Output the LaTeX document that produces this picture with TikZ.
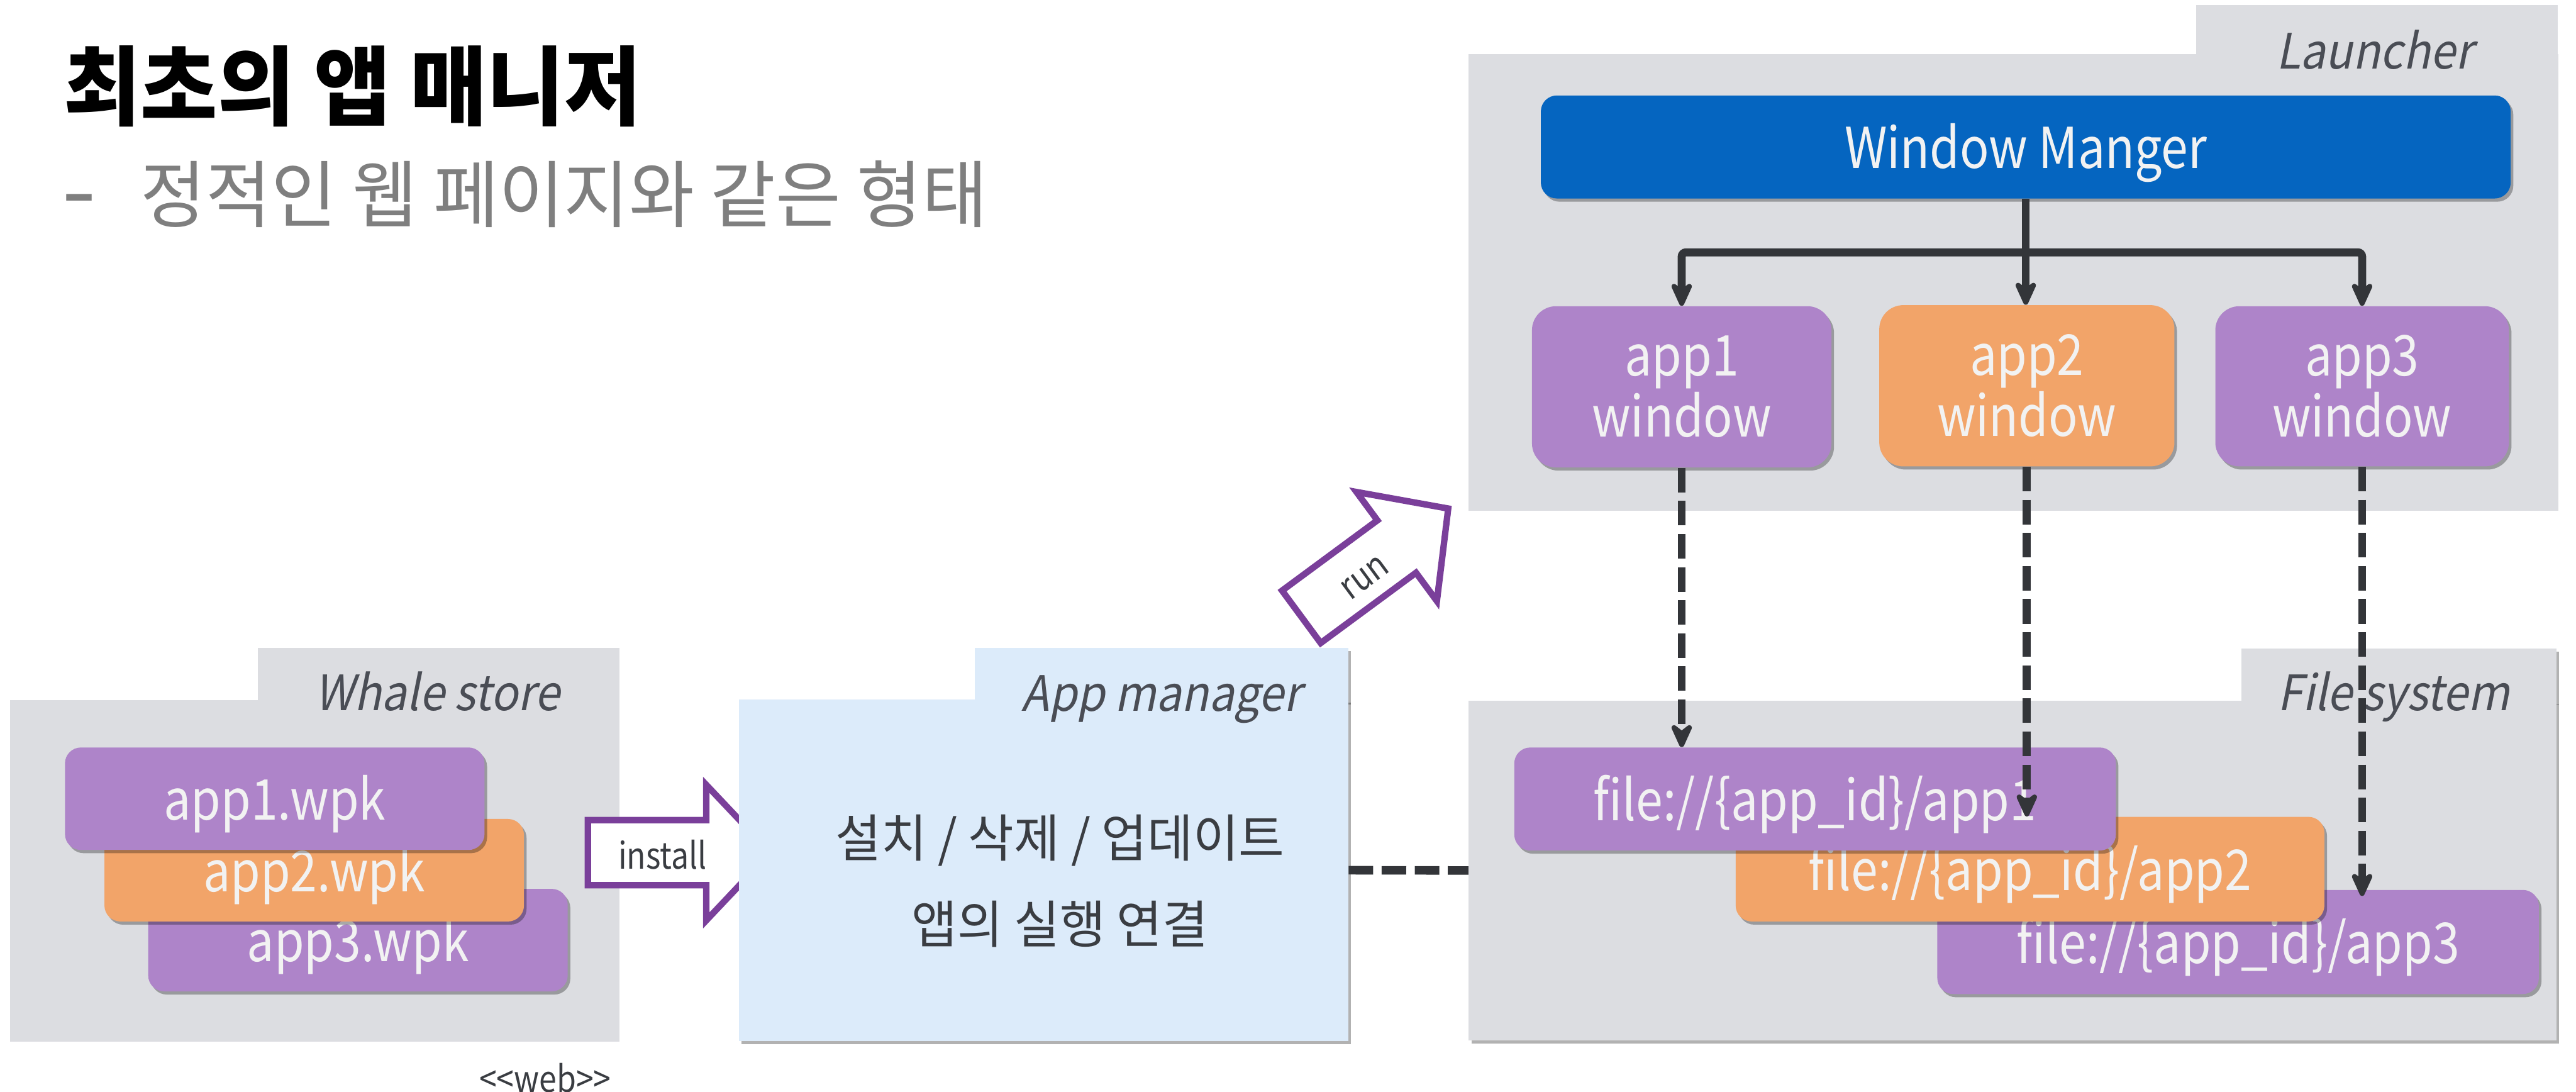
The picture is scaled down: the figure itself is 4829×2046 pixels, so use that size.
\documentclass[tikz,border=0pt]{standalone}
\usepackage{fontspec}
\setmainfont{Noto Sans CJK KR}[FakeStretch=0.86]
\newfontfamily\krfont{Noto Sans CJK KR}[FakeStretch=0.97]
\newfontfamily\slfont{Noto Sans CJK KR}[FakeSlant=0.2,FakeStretch=0.92]
\usetikzlibrary{arrows.meta,shadows}

\definecolor{boxpurple}{HTML}{AE84C9}
\definecolor{boxorange}{HTML}{F2A469}
\definecolor{boxblue}{HTML}{0565C0}
\definecolor{foldergray}{HTML}{DCDDE1}
\definecolor{mgrblue}{HTML}{DCEBFA}
\definecolor{boxtext}{HTML}{F2F2F2}
\definecolor{labeltext}{HTML}{4A4D55}
\definecolor{darktext}{HTML}{3A3D42}
\definecolor{darkline}{HTML}{333539}
\definecolor{arrowpurple}{HTML}{7A3F9A}
\definecolor{subgray}{HTML}{7F7F7F}

\begin{document}
\begin{tikzpicture}[
  x=0.01cm, y=-0.01cm,
  folder/.style={fill=foldergray, draw=none, inner sep=0pt},
  shadowed/.style={drop shadow={shadow xshift=1.4pt, shadow yshift=-1.7pt, opacity=0.3, fill=black}},
  card/.style={inner sep=0pt, align=center, text=boxtext,
    font=\fontsize{30}{32.5}\selectfont, shadowed},
  oneline/.style={text height=0.95cm, text depth=0.15cm},
  purplecard/.style={card, fill=boxpurple},
  orangecard/.style={card, fill=boxorange},
  bluecard/.style={card, fill=boxblue},
  flabel/.style={font=\slfont\fontsize{26}{30}\selectfont, text=labeltext,
    inner sep=0pt, anchor=base east},
  smalltext/.style={font=\fontsize{19.5}{22}\selectfont, text=darktext, inner sep=0pt},
  subtext/.style={inner sep=0pt, text=subgray, font=\krfont\fontsize{39}{42}\selectfont},
  conn/.style={draw=darkline, line width=0.15cm, rounded corners=0.08cm,
    -{Stealth[length=0.58cm, width=0.52cm, inset=0.2cm, round]}},
  dconn/.style={conn, dash pattern=on 0.46cm off 0.16cm},
  dline/.style={draw=darkline, line width=0.16cm, dash pattern=on 0.46cm off 0.16cm},
  blockarrow/.style={draw=arrowpurple, line width=0.12cm, fill=white, line join=miter}
]
\useasboundingbox (0,0) rectangle (4829,2046);

% ---- heading ----
\node[anchor=west, inner sep=0pt, font=\krfont\bfseries\fontsize{46}{50}\selectfont]
  (title) at (119,162) {최초의 앱 매니저};
\node[subtext, anchor=west] (subtitle) at (263,364) {정적인 웹 페이지와 같은 형태};
\node[subtext, anchor=base west] (bullet) at ([xshift=-1.47cm, yshift=-0.05cm]subtitle.base west)
  {\scalebox{1.4}[1.3]{-}};

% ---- Whale store ----
\node[folder, minimum width=6.78cm, minimum height=1.00cm] (storetab) at (822,1264) {};
\node[folder, minimum width=11.42cm, minimum height=6.40cm] (store) at (590,1632) {};
\node[flabel] (storelbl) at (1050,1332) {Whale store};
\node[purplecard, oneline, rounded corners=0.3cm, minimum width=7.86cm, minimum height=1.92cm]
  (wpk3) at (671,1762) {app3.wpk};
\node[orangecard, oneline, rounded corners=0.3cm, minimum width=7.86cm, minimum height=1.92cm]
  (wpk2) at (589,1631) {app2.wpk};
\node[purplecard, oneline, rounded corners=0.3cm, minimum width=7.86cm, minimum height=1.92cm]
  (wpk1) at (515,1497) {app1.wpk};
\node[smalltext] (web) at (1022,2020) {\mbox{<}\mbox{<}web\mbox{>}\mbox{>}};

% ---- install arrow ----
\begin{scope}[shift={(1274,1598)}]
  \draw[blockarrow] (-172,-61) -- (50,-61) -- (50,-127) -- (170,0)
    -- (50,127) -- (50,61) -- (-172,61) -- cycle;
\end{scope}
\node[smalltext] (installlbl) at (1242,1602) {install};

% ---- App manager ----
\node[folder, fill=mgrblue, shadowed, minimum width=7.00cm, minimum height=1.00cm]
  (appmgrtab) at (2177,1264) {};
\node[folder, fill=mgrblue, shadowed, minimum width=11.42cm, minimum height=6.40cm]
  (appmgr) at (1956,1631) {};
\node[flabel] (appmgrlbl) at (2440,1333) {App manager};
\node[inner sep=0pt, align=center, text=darktext,
      font=\krfont\fontsize{27.3}{46}\selectfont] (amtext) at (1987,1651)
  {설치 / 삭제 / 업데이트\\앱의 실행 연결};

% ---- run arrow ----
\begin{scope}[shift={(2578,1054)}, rotate=36.4]
  \draw[blockarrow] (-172,-61) -- (50,-61) -- (50,-127) -- (170,0)
    -- (50,127) -- (50,61) -- (-172,61) -- cycle;
\end{scope}
\node[smalltext, rotate=36.4] (runlbl) at (2559,1083) {run};

% ---- Launcher ----
\node[folder, minimum width=6.78cm, minimum height=0.96cm] (launchtab) at (4456,58) {};
\node[folder, minimum width=20.41cm, minimum height=8.55cm] (launcher) at (3774.5,529.5) {};
\node[flabel] (launchlbl) at (4636,129) {Launcher};
\node[bluecard, oneline, rounded corners=0.3cm, minimum width=18.17cm, minimum height=1.93cm]
  (wm) at (3797.5,275.5) {Window Manger};
\node[purplecard, rounded corners=0.45cm, minimum width=5.61cm, minimum height=3.02cm]
  (app1w) at (3152.5,725) {app1\\window};
\node[orangecard, rounded corners=0.45cm, minimum width=5.53cm, minimum height=3.02cm]
  (app2w) at (3799.5,723) {app2\\window};
\node[purplecard, rounded corners=0.45cm, minimum width=5.50cm, minimum height=3.00cm]
  (app3w) at (4428,724) {app3\\window};

% ---- File system ----
\node[folder, shadowed, minimum width=5.90cm, minimum height=1.00cm] (fstab) at (4497,1265) {};
\node[folder, shadowed, minimum width=20.38cm, minimum height=6.37cm] (fs) at (3773,1631.5) {};
\node[flabel] (fslbl) at (4705,1332) {File system};
\node[purplecard, oneline, rounded corners=0.3cm, minimum width=11.27cm, minimum height=1.95cm]
  (file3) at (4195.5,1765.5) {file://\{app\_id\}/app3};
\node[orangecard, oneline, rounded corners=0.3cm, minimum width=11.03cm, minimum height=1.96cm]
  (file2) at (3805.5,1629) {file://\{app\_id\}/app2};
\node[purplecard, oneline, rounded corners=0.3cm, minimum width=11.27cm, minimum height=1.93cm]
  (file1) at (3402.5,1497.5) {file://\{app\_id\}/app1};

% ---- connectors ----
\coordinate (bus) at (0,473);
\draw[conn] (wm.south) -- (wm.south |- app2w.north);
\draw[conn] (wm.south |- bus) -| (app1w.north);
\draw[conn] (wm.south |- bus) -| (app3w.north);

\draw[dline] (appmgr.east) -- (fs.west);

\draw[dconn] (app1w.south) -- (app1w.south |- file1.north);
\draw[dconn] (app2w.south) -- (app2w.south |- file2.north);
\draw[dconn] (app3w.south) -- ([yshift=-0.12cm]app3w.south |- file3.north);
\end{tikzpicture}
\end{document}
